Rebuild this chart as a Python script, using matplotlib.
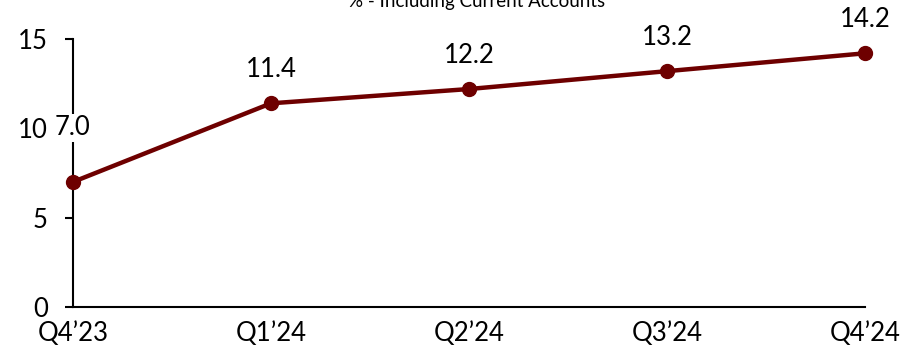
import matplotlib.pyplot as plt

# quarterly ratio, % including current accounts
quarters = ["Q4\u201923", "Q1\u201924", "Q2\u201924", "Q3\u201924", "Q4\u201924"]
ratio = [7.0, 11.4, 12.2, 13.2, 14.2]

plt.rcParams["font.family"] = ["Lato", "DejaVu Sans"]

line_color = "#6E0000"

fig = plt.figure(figsize=(9.22, 3.45), dpi=100)
ax = fig.add_axes([73 / 922, 38 / 345, 792 / 922, 268 / 345])

x = list(range(len(quarters)))
ax.plot(x, ratio, color=line_color, lw=3.2, marker="o", ms=10,
        solid_capstyle="round", zorder=3, clip_on=False)

# value labels above each point (first one lifted a bit higher)
for i, v in enumerate(ratio):
    off = 39 if i == 0 else 24
    ax.annotate(f"{v:.1f}", (i, v), xytext=(0, off), textcoords="offset points",
                ha="center", va="center", fontsize=18.5,
                bbox=dict(facecolor="white", edgecolor="none", pad=1),
                zorder=4)

ax.set_xlim(0, 4)
ax.set_ylim(0, 15)
ax.set_yticks([0, 5, 10, 15])
ax.set_xticks(x)
ax.set_xticklabels(quarters)

for s in ["top", "right"]:
    ax.spines[s].set_visible(False)
ax.spines["left"].set_linewidth(1.5)
ax.spines["bottom"].set_linewidth(1.5)
ax.tick_params(axis="y", length=6, width=1.5, labelsize=18.5, pad=12)
ax.tick_params(axis="x", length=0, labelsize=18.5, pad=10)

fig.text(0.517, 0.979, "% - Including Current Accounts", ha="center",
         va="baseline", fontsize=13.5)

fig.savefig("out.png", dpi=100)
